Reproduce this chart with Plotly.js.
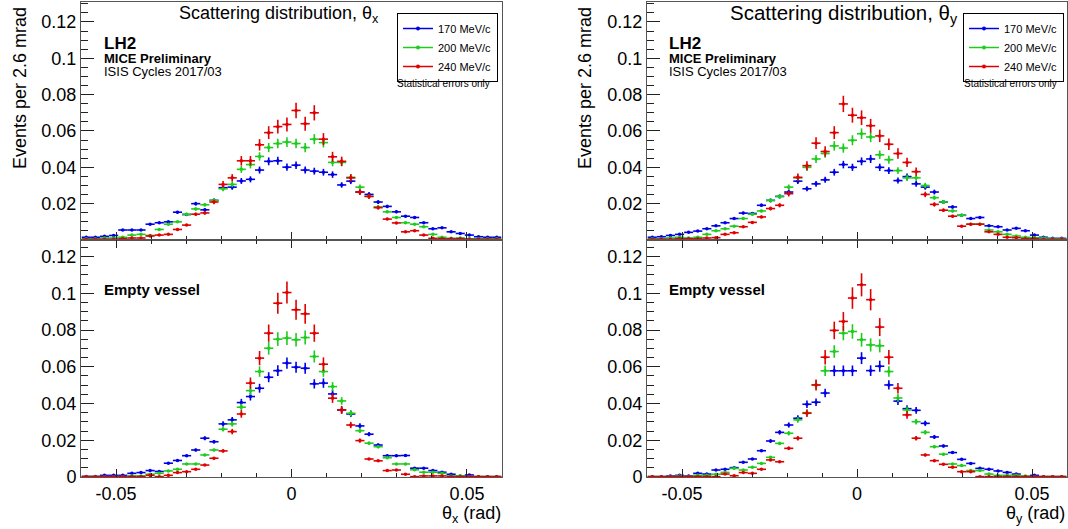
<!DOCTYPE html>
<html>
<head>
<meta charset="utf-8">
<script src="https://cdn.plot.ly/plotly-3.0.1.min.js"></script>
<style>
  html, body { margin: 0; padding: 0; background: #fff; }
  #chart { width: 1068px; height: 529px; }
</style>
</head>
<body>
<div id="chart"></div>
<script>
// ---- binning (2.6 mrad bins, 46 bins from -0.0598 to 0.0598 rad) ----
const BIN_WIDTH = 0.0026;
const FIRST_BIN_CENTER = -0.0585;

// ---- momenta (legend labels) ----
const momenta = ['170 MeV/c', '200 MeV/c', '240 MeV/c'];

// ---- LH2, theta_x ----
const lh2X_170 = [0.0015,0.0015,0.002,0.0025,0.0055,0.0055,0.0055,0.0087,0.0095,0.010,0.0153,0.014,0.0200,0.0166,0.0218,0.0288,0.0291,0.0325,0.0334,0.0385,0.0433,0.0436,0.0401,0.0412,0.0385,0.0379,0.0373,0.036,0.0303,0.0324,0.0264,0.0251,0.0209,0.0185,0.0155,0.0131,0.0124,0.0095,0.0062,0.0067,0.0045,0.0036,0.0027,0.0018,0.0015,0.0015];
const lh2X_200 = [0.0007,0.0007,0.0011,0.0011,0.0015,0.0027,0.0031,0.0025,0.0058,0.0087,0.010,0.0142,0.0171,0.0194,0.0218,0.0282,0.0306,0.0389,0.0415,0.046,0.0509,0.0531,0.0539,0.0531,0.0509,0.0555,0.0536,0.0427,0.0427,0.0345,0.0291,0.024,0.0182,0.0155,0.0124,0.0095,0.0087,0.0073,0.0031,0.0015,0.0009,0.0011,0.0007,0.0007,0.0007,0.0007];
const lh2X_240 = [0.0004,0.0004,0.0004,0.0004,0.0007,0.0011,0.0011,0.0022,0.0027,0.0031,0.0058,0.0082,0.0142,0.0149,0.0209,0.0306,0.0342,0.0436,0.0436,0.0524,0.0591,0.0624,0.0636,0.0713,0.0640,0.0700,0.0555,0.0458,0.0433,0.0342,0.0264,0.024,0.0178,0.0115,0.0094,0.0045,0.0051,0.0027,0.0009,0.0007,0.0007,0.0007,0.0004,0.0004,0.0004,0.0004];

// ---- Empty vessel, theta_x ----
const emptyX_170 = [0.0003,0.0003,0.0009,0.0009,0.0009,0.002,0.0024,0.0035,0.003,0.0075,0.009,0.0116,0.0147,0.0211,0.0192,0.0289,0.0311,0.0405,0.0438,0.0483,0.0543,0.0579,0.062,0.0598,0.0592,0.0507,0.0511,0.0452,0.0365,0.0343,0.0278,0.0233,0.0174,0.0116,0.0116,0.0117,0.0048,0.0048,0.0035,0.0026,0.0015,0.0006,0.0011,0.0002,0.0002,0.0002];
const emptyX_200 = [0.0002,0.0002,0.0002,0.0002,0.0002,0.0006,0.0006,0.0015,0.002,0.0033,0.0042,0.0071,0.0071,0.012,0.0147,0.026,0.0289,0.038,0.047,0.0574,0.0701,0.075,0.0756,0.0747,0.0759,0.0656,0.0574,0.0492,0.0414,0.0347,0.0252,0.0184,0.0165,0.0105,0.0071,0.0071,0.0039,0.0026,0.0026,0.002,0.0006,0.0006,0.0002,0.0002,0.0002,0.0002];
const emptyX_240 = [0.0002,0.0002,0.0002,0.0002,0.0002,0.0002,0.0002,0.0009,0.0002,0.0009,0.0024,0.0029,0.0042,0.0065,0.0102,0.0142,0.0247,0.0343,0.0511,0.0647,0.0783,0.0946,0.1004,0.091,0.0888,0.0783,0.0614,0.0429,0.0365,0.0283,0.0198,0.0098,0.0088,0.0035,0.0038,0.0015,0.0002,0.0006,0.0006,0.0006,0.0002,0.0002,0.0002,0.0002,0.0002,0.0002];

// ---- LH2, theta_y ----
const lh2Y_170 = [0.0015,0.0018,0.0025,0.0031,0.0042,0.0049,0.0062,0.0078,0.0095,0.0118,0.0148,0.0146,0.0191,0.0218,0.024,0.0264,0.0324,0.0282,0.0309,0.0331,0.0373,0.0415,0.04,0.0433,0.0446,0.04,0.0382,0.0327,0.0349,0.0309,0.0291,0.0264,0.0209,0.0182,0.0136,0.0118,0.0124,0.0078,0.0073,0.0055,0.0064,0.0051,0.0027,0.0015,0.0009,0.0009];
const lh2Y_200 = [0.0007,0.0007,0.0011,0.0015,0.0011,0.0015,0.0031,0.0051,0.0062,0.0076,0.0118,0.0142,0.016,0.0218,0.024,0.0291,0.0342,0.04,0.0446,0.0476,0.0518,0.0506,0.0549,0.0585,0.0567,0.0469,0.0442,0.0382,0.0342,0.0342,0.03,0.0233,0.0209,0.016,0.0136,0.0087,0.0087,0.0055,0.0045,0.0031,0.0022,0.0015,0.0013,0.0011,0.0007,0.0007];
const lh2Y_240 = [0.0004,0.0004,0.0004,0.0007,0.0007,0.0007,0.0011,0.0013,0.0031,0.004,0.0073,0.0097,0.0127,0.0173,0.0191,0.0255,0.0345,0.0409,0.0533,0.0487,0.0591,0.0749,0.0687,0.0673,0.0629,0.0573,0.0527,0.0476,0.0427,0.0376,0.0251,0.0196,0.0164,0.0131,0.0076,0.0087,0.0087,0.0045,0.0031,0.0015,0.0013,0.0007,0.0007,0.0004,0.0004,0.0004];

// ---- Empty vessel, theta_y ----
const emptyY_170 = [0.0002,0.0002,0.0005,0.0009,0.0005,0.002,0.0016,0.0038,0.0042,0.0051,0.008,0.0098,0.0143,0.0196,0.0243,0.0283,0.032,0.0396,0.0407,0.0457,0.0578,0.0578,0.0578,0.0647,0.0579,0.0603,0.0501,0.0413,0.0372,0.0363,0.0292,0.0218,0.0169,0.0133,0.0096,0.0074,0.0047,0.0042,0.0033,0.0025,0.0016,0.0002,0.0009,0.0002,0.0002,0.0002];
const emptyY_200 = [0.0002,0.0002,0.0002,0.0005,0.0002,0.0009,0.0009,0.0015,0.0025,0.0047,0.0038,0.0053,0.0074,0.0107,0.0183,0.0238,0.0311,0.035,0.0501,0.0578,0.0683,0.0783,0.0792,0.0747,0.0719,0.0714,0.0574,0.043,0.0365,0.0301,0.0243,0.0165,0.0124,0.0071,0.0062,0.0035,0.0035,0.0016,0.0009,0.0009,0.0009,0.0005,0.0002,0.0002,0.0002,0.0002];
const emptyY_240 = [0.0002,0.0002,0.0002,0.0002,0.0002,0.0002,0.0002,0.0002,0.0016,0.0007,0.0024,0.002,0.0042,0.0093,0.0083,0.0156,0.0211,0.0347,0.0501,0.0652,0.0798,0.0847,0.0974,0.1046,0.0965,0.0816,0.0652,0.0483,0.0338,0.0211,0.012,0.0089,0.0069,0.0053,0.0029,0.0029,0.0002,0.0002,0.0002,0.0002,0.0002,0.0002,0.0002,0.0002,0.0002,0.0002];

// ---- tick labels ----
const xTickVals = [-0.05, 0, 0.05];
const xTickText = ['-0.05', '0', '0.05'];
const yTopTickVals = [0.02, 0.04, 0.06, 0.08, 0.1, 0.12];
const yTopTickText = ['0.02', '0.04', '0.06', '0.08', '0.1', '0.12'];
const yBotTickVals = [0, 0.02, 0.04, 0.06, 0.08, 0.1, 0.12];
const yBotTickText = ['0', '0.02', '0.04', '0.06', '0.08', '0.1', '0.12'];

// ---- styles ----
const colors = ['#0000e8', '#1ecc1e', '#e00000'];
const errPct = [5, 5, 6];
const FONT = 'Liberation Sans, Arial, Helvetica, sans-serif';

function histTrace(y, i, xa, ya) {
  return {
    type: 'scatter', mode: 'markers',
    x0: FIRST_BIN_CENTER, dx: BIN_WIDTH, y: y,
    xaxis: xa, yaxis: ya,
    marker: { color: colors[i], size: 3.5 },
    error_x: { type: 'constant', value: BIN_WIDTH / 2, width: 0, thickness: 1.6, color: colors[i] },
    error_y: { type: 'percent', value: errPct[i], width: 0, thickness: 1.6, color: colors[i] },
    showlegend: false, hoverinfo: 'skip'
  };
}
function legendTrace(i, xa, ya, leg) {
  return {
    type: 'scatter', mode: 'lines+markers', x: [null], y: [null],
    xaxis: xa, yaxis: ya, name: momenta[i], legend: leg,
    line: { color: colors[i], width: 1.5 }, marker: { color: colors[i], size: 4 },
    showlegend: true, hoverinfo: 'skip'
  };
}

const panels = [
  { series: [lh2X_170, lh2X_200, lh2X_240], xa: 'x', ya: 'y' },
  { series: [emptyX_170, emptyX_200, emptyX_240], xa: 'x2', ya: 'y2' },
  { series: [lh2Y_170, lh2Y_200, lh2Y_240], xa: 'x3', ya: 'y3' },
  { series: [emptyY_170, emptyY_200, emptyY_240], xa: 'x4', ya: 'y4' }
];

const data = [];
panels.forEach(p => p.series.forEach((s, i) => data.push(histTrace(s, i, p.xa, p.ya))));
[0, 1, 2].forEach(i => data.push(legendTrace(i, 'x', 'y', 'legend')));
[0, 1, 2].forEach(i => data.push(legendTrace(i, 'x3', 'y3', 'legend2')));

const W = 1068, H = 529;
const px = v => v / W;
const py = v => 1 - v / H;

const leftDom = [px(81), px(502)];
const rightDom = [px(647), px(1067)];
const topDom = [py(240), py(2)];
const botDom = [py(477), py(240)];

function xAxis(dom, anchor, labels, mirror) {
  return {
    domain: dom, anchor: anchor, range: [-0.06, 0.06],
    tickmode: 'array', tickvals: xTickVals, ticktext: xTickText, showticklabels: labels,
    ticks: 'inside', ticklen: 8, tickwidth: 1, tickcolor: '#222',
    minor: { tickmode: 'linear', tick0: 0, dtick: 0.01, ticks: 'inside', ticklen: 4, tickcolor: '#222', tickwidth: 1, showgrid: false },
    showline: true, linecolor: '#555', linewidth: 1, mirror: mirror,
    showgrid: false, zeroline: false, fixedrange: true,
    tickfont: { family: FONT, size: 18, color: '#000' }
  };
}
function yAxis(dom, anchor, range, vals, text) {
  return {
    domain: dom, anchor: anchor, range: range,
    tickmode: 'array', tickvals: vals, ticktext: text,
    ticks: 'inside', ticklen: 13, tickwidth: 1, tickcolor: '#222',
    minor: { tickmode: 'linear', tick0: 0, dtick: 0.005, ticks: 'inside', ticklen: 7, tickcolor: '#222', tickwidth: 1, showgrid: false },
    showline: true, linecolor: '#555', linewidth: 1, mirror: true,
    showgrid: false, zeroline: false, fixedrange: true,
    tickfont: { family: FONT, size: 18, color: '#000' }
  };
}

function ann(text, x, y, size, opts) {
  return Object.assign({
    text: text, x: x, y: y, xref: 'paper', yref: 'paper',
    xanchor: 'left', yanchor: 'middle', showarrow: false,
    font: { family: FONT, size: size, color: '#000' }
  }, opts || {});
}

const annotations = [
  ann('Scattering distribution, θ<sub>x</sub>', px(177), py(14), 18),
  ann('Scattering distribution, θ<sub>y</sub>', px(728), py(14), 20.5),
  ann('<b>LH2</b>', px(102), py(43), 17),
  ann('<b>MICE Preliminary</b>', px(102), py(58), 13),
  ann('ISIS Cycles 2017/03', px(102), py(72), 13),
  ann('<b>LH2</b>', px(667), py(43), 17),
  ann('<b>MICE Preliminary</b>', px(667), py(58), 13),
  ann('ISIS Cycles 2017/03', px(667), py(72), 13),
  ann('<b>Empty vessel</b>', px(102), py(289), 15),
  ann('<b>Empty vessel</b>', px(667), py(289), 15),
  ann('Statistical errors only', px(443), py(84), 10, { xanchor: 'center' }),
  ann('Statistical errors only', px(1010), py(84), 10, { xanchor: 'center' }),
  ann('Events per 2.6 mrad', px(20), py(5), 18, { xanchor: 'center', yanchor: 'top', textangle: -90 }),
  ann('Events per 2.6 mrad', px(585), py(5), 18, { xanchor: 'center', yanchor: 'top', textangle: -90 }),
  ann('θ<sub>x</sub> (rad)', px(503), py(514), 18, { xanchor: 'right' }),
  ann('θ<sub>y</sub> (rad)', px(1067), py(514), 18, { xanchor: 'right' })
];

function legendBox(xpx) {
  return {
    x: px(xpx), y: py(13), xanchor: 'left', yanchor: 'top',
    xref: 'paper', yref: 'paper',
    bgcolor: '#fff', bordercolor: '#000', borderwidth: 1,
    font: { family: FONT, size: 11, color: '#000' },
    itemwidth: 30, tracegroupgap: 0, orientation: 'v'
  };
}

const layout = {
  width: W, height: H,
  margin: { l: 0, r: 0, t: 0, b: 0, pad: 0 },
  paper_bgcolor: '#fff', plot_bgcolor: '#fff',
  font: { family: FONT, size: 18, color: '#000' },
  showlegend: true,
  xaxis: xAxis(leftDom, 'y', false, true),
  yaxis: yAxis(topDom, 'x', [0, 0.131], yTopTickVals, yTopTickText),
  xaxis2: xAxis(leftDom, 'y2', true, 'ticks'),
  yaxis2: yAxis(botDom, 'x2', [0, 0.129], yBotTickVals, yBotTickText),
  xaxis3: xAxis(rightDom, 'y3', false, true),
  yaxis3: yAxis(topDom, 'x3', [0, 0.131], yTopTickVals, yTopTickText),
  xaxis4: xAxis(rightDom, 'y4', true, 'ticks'),
  yaxis4: yAxis(botDom, 'x4', [0, 0.129], yBotTickVals, yBotTickText),
  legend: legendBox(397),
  legend2: legendBox(963),
  annotations: annotations
};

Plotly.newPlot('chart', data, layout, { displayModeBar: false, staticPlot: true });
</script>
</body>
</html>
